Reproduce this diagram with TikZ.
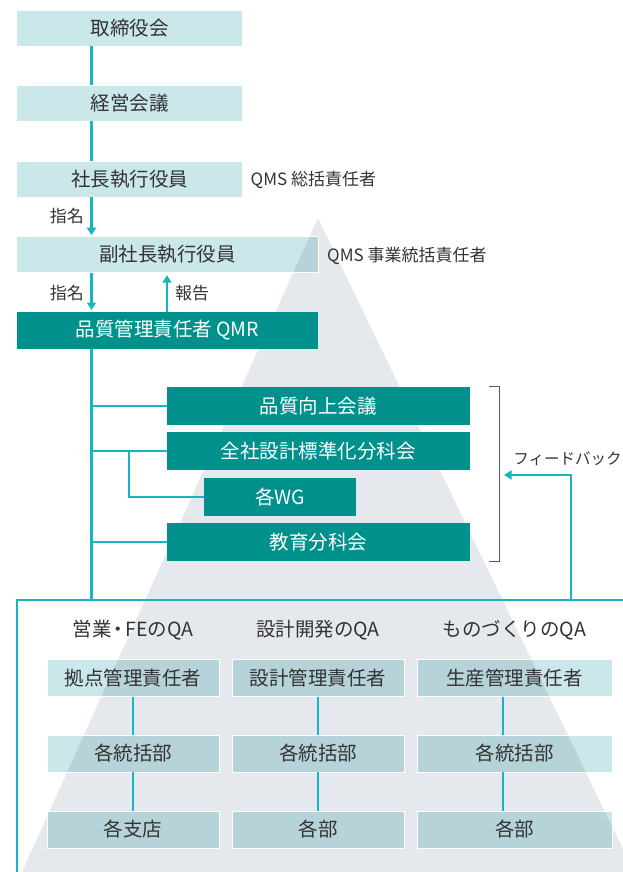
\documentclass[tikz,border=0pt]{standalone}
\usepackage{fontspec}
\setmainfont{Noto Sans CJK JP}
\usetikzlibrary{arrows.meta}
\definecolor{lbfill}{HTML}{CAE7EA}
\definecolor{lbdark}{HTML}{B5D3D9}
\definecolor{trigray}{HTML}{E5E8EC}
\definecolor{qteal}{HTML}{00918D}
\definecolor{cyanline}{HTML}{17B6BF}
\definecolor{txtgray}{HTML}{333333}
\definecolor{brkgray}{HTML}{555555}
\pgfdeclarelayer{trilayer}
\pgfdeclarelayer{filllayer}
\pgfsetlayers{trilayer,filllayer,main}
\begin{document}
\begin{tikzpicture}[x=1pt,y=-1pt,
  lbox/.style={rectangle, draw=white, line width=0.7pt, inner sep=0pt, outer sep=0pt, text=txtgray, font=\fontsize{19.5}{23}\selectfont},
  dbox/.style={rectangle, fill=qteal, inner sep=0pt, outer sep=0pt, text=white, font=\fontsize{19.5}{23}\selectfont},
  conn/.style={draw=cyanline, line width=2.2pt},
  headarrow/.style={-{Triangle[width=9pt,length=7.5pt]}},
  lbl/.style={inner sep=0pt, text=txtgray, font=\fontsize{17}{20}\selectfont},
  hdr/.style={inner sep=0pt, text=txtgray, font=\fontsize{19.5}{23}\selectfont},
  brk/.style={draw=brkgray, line width=1.3pt}]
\useasboundingbox (0,0) rectangle (623,872);

% background triangle
\begin{pgfonlayer}{trilayer}
\fill[trigray] (318,218) -- (634,872) -- (22,872) -- cycle;
\end{pgfonlayer}

% top chain
\node[lbox, minimum width=225.6, minimum height=36] (tb) at (129.5,28) {取締役会};
\node[lbox, minimum width=225.6, minimum height=36] (km) at (129.5,103) {経営会議};
\node[lbox, minimum width=225.6, minimum height=36] (pr) at (129.5,179) {社長執行役員};
\node[lbox, minimum width=301.3, minimum height=36] (vp) at (167.3,254.7) {副社長執行役員};
\node[dbox, minimum width=301.3, minimum height=37] (qmr) at (167.3,330) {品質管理責任者 QMR};

\node[lbl, anchor=west] (qms1) at (250.5,180) {QMS 総括責任者};
\node[lbl, anchor=west] (qms2) at (327,255.5) {QMS 事業統括責任者};
\node[lbl, anchor=east] (nm1) at (84,216.5) {指名};
\node[lbl, anchor=east] (nm2) at (84,293) {指名};
\node[lbl, anchor=west] (hk) at (175,293) {報告};

% committees
\node[dbox, minimum width=303, minimum height=38] (q1) at (318.3,405.8) {品質向上会議};
\node[dbox, minimum width=303, minimum height=38] (q2) at (318.3,451) {全社設計標準化分科会};
\node[dbox, minimum width=152, minimum height=38] (wg) at (280,496.7) {各WG};
\node[dbox, minimum width=303, minimum height=38] (q4) at (318.3,542.2) {教育分科会};

\node[lbl, font=\fontsize{15.5}{18}\selectfont] (fb) at (567.5,459) {フィードバック};

% bottom section
\node[hdr] (h1) at (133,630) {営業\kern-0.15em・\kern-0.15em FEのQA};
\node[hdr] (h2) at (318,630) {設計開発のQA};
\node[hdr] (h3) at (514.5,630) {ものづくりのQA};

\node[lbox, minimum width=172, minimum height=37] (c1r1) at (133,678) {拠点管理責任者};
\node[lbox, minimum width=172, minimum height=37] (c2r1) at (318,678) {設計管理責任者};
\node[lbox, minimum width=195, minimum height=37] (c3r1) at (514.5,678) {生産管理責任者};
\node[lbox, minimum width=172, minimum height=37] (c1r2) at (133,753.5) {各統括部};
\node[lbox, minimum width=172, minimum height=37] (c2r2) at (318,753.5) {各統括部};
\node[lbox, minimum width=195, minimum height=37] (c3r2) at (514.5,753.5) {各統括部};
\node[lbox, minimum width=172, minimum height=37] (c1r3) at (133,829.5) {各支店};
\node[lbox, minimum width=172, minimum height=37] (c2r3) at (318,829.5) {各部};
\node[lbox, minimum width=195, minimum height=37] (c3r3) at (514.5,829.5) {各部};

% light box fills (darker where over the triangle)
\begin{pgfonlayer}{filllayer}
\foreach \n in {tb,km,pr,vp,c1r1,c2r1,c3r1,c1r2,c2r2,c3r2,c1r3,c2r3,c3r3}{
  \fill[lbfill] (\n.south west) rectangle (\n.north east);
}
\begin{scope}
\clip (318,218) -- (634,872) -- (22,872) -- cycle;
\foreach \n in {tb,km,pr,vp,c1r1,c2r1,c3r1,c1r2,c2r2,c3r2,c1r3,c2r3,c3r3}{
  \fill[lbdark] (\n.south west) rectangle (\n.north east);
}
\end{scope}
\end{pgfonlayer}

% helper coordinates
\coordinate (spine) at (91.5,0);
\coordinate (rx) at (167,0);
\coordinate (wgx) at (129,0);
\coordinate (col3x) at (503,0);
\coordinate (ftl) at (17.2,600);
\coordinate (ftr) at (630,600);
\coordinate (fbl) at (17.2,880);
\coordinate (fbx) at (571,600);
\coordinate (fbturn) at (571,475);
\coordinate (fbtip) at (504,475);

% connectors
\draw[conn] (tb.south -| spine) -- (km.north -| spine);
\draw[conn] (km.south -| spine) -- (pr.north -| spine);
\draw[conn, headarrow, shorten >=1.5pt] (pr.south -| spine) -- (vp.north -| spine);
\draw[conn, headarrow, shorten >=1.5pt] (vp.south -| spine) -- (qmr.north -| spine);
\draw[conn, headarrow, shorten >=2.5pt] (qmr.north -| rx) -- (vp.south -| rx);
\draw[conn] (qmr.south -| spine) -- (ftl -| spine);
\draw[conn] (q1.west -| spine) -- (q1.west);
\draw[conn] (q2.west -| spine) -- (q2.west);
\draw[conn] (q4.west -| spine) -- (q4.west);
\draw[conn] (q2.west -| wgx) |- (wg.west);
\draw[conn, line width=2.4pt] (fbl) -- (ftl) -- (ftr);
\draw[conn, headarrow] (fbx) -- (fbturn) -- (fbtip);

\draw[brk] ([xshift=19pt]q1.north east) -- ([xshift=30pt]q1.north east) -- ([xshift=30pt]q4.south east) -- ([xshift=19pt]q4.south east);

\draw[conn] (c1r1.south) -- (c1r2.north);
\draw[conn] (c1r2.south) -- (c1r3.north);
\draw[conn] (c2r1.south) -- (c2r2.north);
\draw[conn] (c2r2.south) -- (c2r3.north);
\draw[conn] (c3r1.south -| col3x) -- (c3r2.north -| col3x);
\draw[conn] (c3r2.south -| col3x) -- (c3r3.north -| col3x);
\end{tikzpicture}
\end{document}
